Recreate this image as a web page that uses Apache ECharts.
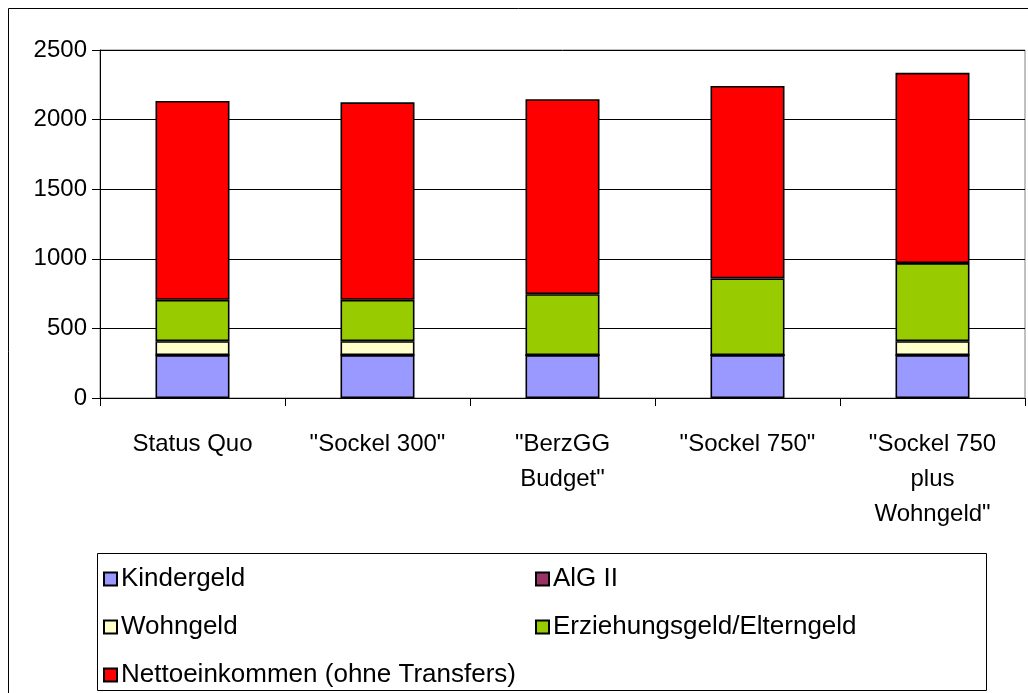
<!DOCTYPE html>
<html>
<head>
<meta charset="utf-8">
<script src="https://cdn.jsdelivr.net/npm/echarts@6/dist/echarts.min.js"></script>
<style>
html,body{margin:0;padding:0;background:#fff;}
#c{width:1028px;height:693px;}
</style>
</head>
<body>
<div id="c"></div>
<script>
var categories = ['Status Quo', '"Sockel 300"', '"BerzGG\nBudget"', '"Sockel 750"', '"Sockel 750\nplus\nWohngeld"'];
var kindergeld = [308, 308, 308, 308, 308];
var wohngeld = [100, 100, 0, 0, 100];
var algII = [0, 0, 0, 0, 0];
var erziehungsgeld = [297, 297, 438, 551, 561];
var nettoeinkommen = [1429, 1419, 1401, 1383, 1367];
var yTicks = [0, 500, 1000, 1500, 2000, 2500];

var FONT = 'Liberation Sans, Arial, sans-serif';
var FS = 24;
var chart = echarts.init(document.getElementById('c'), null, {renderer: 'canvas'});

function bar(name, data, color) {
  return {
    name: name, type: 'bar', stack: 'total', data: data,
    barWidth: '40%',
    itemStyle: {color: color, borderColor: '#000', borderWidth: 1.6},
    emphasis: {disabled: true}
  };
}

var legendText = {fontFamily: FONT, fontSize: 26, color: '#000', padding: [0, 0, 0, -1]};

chart.setOption({
  animation: false,
  backgroundColor: '#fff',
  textStyle: {fontFamily: FONT},
  graphic: [
    {type: 'rect', shape: {x: 8.5, y: 8.5, width: 1040, height: 700}, style: {fill: 'none', stroke: '#000', lineWidth: 1}, silent: true, z: -10},
    {type: 'rect', shape: {x: 97.5, y: 553.5, width: 889, height: 137}, style: {fill: '#fff', stroke: '#000', lineWidth: 1}, silent: true, z: -5}
  ],
  grid: {left: 100, right: 3, top: 50, bottom: 295, show: true, borderColor: '#808080', borderWidth: 1},
  legend: [
    {
      orient: 'vertical', left: 103, top: 566, padding: 0, itemWidth: 13, itemHeight: 13, itemGap: 22,
      icon: 'rect', textStyle: legendText,
      data: ['Kindergeld', 'Wohngeld', 'Nettoeinkommen (ohne Transfers)'],
      selectedMode: false
    },
    {
      orient: 'vertical', left: 535, top: 566, padding: 0, itemWidth: 13, itemHeight: 13, itemGap: 22,
      icon: 'rect', textStyle: legendText,
      data: ['AlG II', 'Erziehungsgeld/Elterngeld'],
      selectedMode: false
    }
  ],
  xAxis: {
    type: 'category', data: categories,
    axisLine: {lineStyle: {color: '#000', width: 1}},
    axisTick: {show: true, length: 8, lineStyle: {color: '#000'}},
    axisLabel: {interval: 0, fontFamily: FONT, fontSize: FS, color: '#000', lineHeight: 35, margin: 29}
  },
  yAxis: {
    type: 'value', min: yTicks[0], max: yTicks[yTicks.length - 1], interval: 500,
    axisLine: {show: true, lineStyle: {color: '#000', width: 1}},
    axisTick: {show: true, length: 8, lineStyle: {color: '#000'}},
    axisLabel: {fontFamily: FONT, fontSize: FS, color: '#000', margin: 13, formatter: function (v) { return String(v); }},
    splitLine: {show: true, lineStyle: {color: '#000', width: 1}}
  },
  series: [
    bar('Kindergeld', kindergeld, '#9999FF'),
    bar('AlG II', algII, '#993366'),
    bar('Wohngeld', wohngeld, '#FFFFCC'),
    bar('Erziehungsgeld/Elterngeld', erziehungsgeld, '#99CC00'),
    bar('Nettoeinkommen (ohne Transfers)', nettoeinkommen, '#FF0000')
  ]
});
</script>
</body>
</html>
